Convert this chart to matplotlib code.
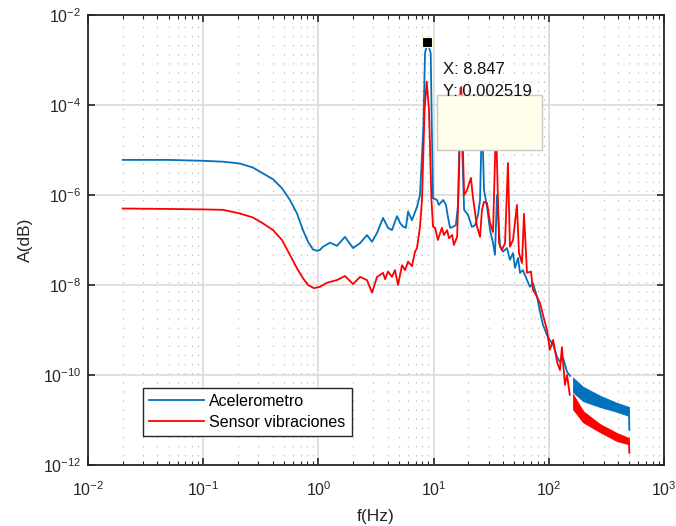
import numpy as np
import matplotlib
matplotlib.use("Agg")
import matplotlib.pyplot as plt
from matplotlib.ticker import FixedLocator, FixedFormatter, NullLocator
from matplotlib.patches import Rectangle

plt.rcParams['font.family'] = ['Liberation Sans', 'DejaVu Sans']
plt.rcParams['mathtext.default'] = 'regular'

# ---------------- data ----------------
# Acelerometro: frequency [Hz] and log10(amplitude)
acc_f = [0.02, 0.05, 0.1, 0.1486, 0.208, 0.270, 0.330, 0.404, 0.483, 0.566,
         0.652, 0.735, 0.813, 0.897, 0.973, 1.032, 1.096, 1.26, 1.45, 1.70,
         2.00, 2.30, 2.64, 2.92, 3.23, 3.64, 4.02, 4.35, 4.81, 5.11,
         5.42, 5.75, 6.00, 6.49, 7.18, 7.62, 8.15, 8.42, 8.847, 9.44,
         9.65, 9.88, 10.7, 11.1, 12.1, 12.8, 13.3, 13.9, 14.7, 15.6,
         16.3, 17.1, 18.4, 19.9, 21.5, 22.9, 24.3, 25.3, 26.3, 27.4,
         29.1, 30.9, 32.8, 34.1, 35.5, 37.7, 40.0, 43.4, 46.0, 48.9,
         50.9, 54.1, 56.2, 59.7, 64.7, 68.7, 72.9, 79.0, 83.9, 89.1,
         96.4, 102, 109, 118, 125, 133, 144, 153]
acc_log = [-5.22, -5.22, -5.24, -5.26, -5.30, -5.39, -5.52, -5.65, -5.85, -6.11,
           -6.41, -6.78, -7.04, -7.21, -7.24, -7.22, -7.15, -7.06, -7.13, -6.93,
           -7.18, -7.07, -6.89, -7.04, -6.84, -6.51, -6.73, -6.78, -6.47, -6.62,
           -6.70, -6.73, -6.37, -6.56, -6.26, -6.00, -4.50, -2.85, -2.599, -2.85,
           -4.50, -6.07, -6.11, -6.22, -6.11, -6.22, -6.48, -6.73, -6.71, -6.67,
           -6.22, -3.62, -6.33, -6.44, -6.71, -6.67, -6.44, -6.11, -4.20, -5.89,
           -6.26, -6.78, -7.07, -7.33, -6.00, -7.15, -7.26, -7.18, -7.44, -7.29,
           -7.62, -7.40, -7.73, -7.67, -7.89, -8.04, -7.96, -8.26, -8.60, -8.89,
           -9.11, -9.22, -9.33, -9.60, -9.71, -9.62, -9.93, -10.02]
# Acelerometro high-frequency band (envelopes, log10)
acc_band_f = [162, 198, 278, 391, 497]
acc_band_hi = [-10.06, -10.26, -10.46, -10.62, -10.71]
acc_band_lo = [-10.38, -10.58, -10.71, -10.82, -10.91]
acc_end_f = [497, 500]
acc_end_log = [-10.80, -11.22]

# Sensor vibraciones
sen_f = [0.02, 0.05, 0.1, 0.1486, 0.208, 0.270, 0.330, 0.404, 0.483, 0.566,
         0.652, 0.735, 0.813, 0.916, 1.032, 1.188, 1.45, 1.70, 2.00, 2.30,
         2.64, 2.92, 3.23, 3.64, 3.79, 4.02, 4.35, 4.62, 4.91, 5.32,
         5.65, 6.00, 6.49, 6.90, 7.18, 7.62, 7.93, 8.35, 8.71, 9.12,
         9.58, 9.88, 10.3, 10.9, 11.8, 12.3, 13.1, 13.6, 14.5, 15.0,
         16.0, 16.3, 17.4, 18.4, 19.5, 21.1, 22.0, 23.8, 25.3, 26.3,
         27.4, 29.1, 30.9, 32.8, 34.8, 37.0, 39.2, 41.7, 44.2, 46.0,
         48.9, 52.9, 55.1, 58.5, 60.9, 64.7, 70.0, 72.9, 79.0, 83.9,
         89.1, 96.4, 102, 109, 118, 125, 130, 138, 144, 152]
sen_log = [-6.30, -6.31, -6.32, -6.33, -6.41, -6.50, -6.63, -6.78, -7.00, -7.33,
           -7.63, -7.85, -8.00, -8.07, -8.04, -7.95, -7.89, -7.80, -7.98, -7.82,
           -7.89, -8.17, -7.82, -7.73, -7.87, -7.70, -7.82, -7.67, -8.00, -7.56,
           -7.67, -7.48, -7.58, -7.26, -7.18, -6.70, -6.11, -4.11, -3.48, -4.11,
           -6.11, -6.70, -6.73, -7.00, -6.73, -6.89, -6.78, -6.96, -6.89, -7.11,
           -6.93, -6.26, -3.60, -6.00, -5.89, -5.62, -6.07, -6.70, -6.93, -6.33,
           -6.15, -6.18, -6.62, -6.82, -4.40, -7.07, -7.22, -7.07, -5.29, -7.15,
           -7.00, -6.22, -7.29, -7.51, -6.42, -7.73, -7.70, -8.11, -8.26, -8.40,
           -8.67, -9.00, -9.44, -9.22, -9.71, -9.89, -9.38, -10.22, -10.00, -10.44]
sen_band_f = [162, 198, 278, 391, 497]
sen_band_hi = [-10.42, -10.80, -11.09, -11.29, -11.40]
sen_band_lo = [-10.76, -11.05, -11.27, -11.47, -11.54]
sen_end_f = [497, 500]
sen_end_log = [-11.47, -11.73]

peak_x = 8.847
peak_y = 0.002519

xticks = [1e-2, 1e-1, 1e0, 1e1, 1e2, 1e3]
xticklabels = [r'$10^{-2}$', r'$10^{-1}$', r'$10^{0}$', r'$10^{1}$', r'$10^{2}$', r'$10^{3}$']
yticks = [1e-12, 1e-10, 1e-8, 1e-6, 1e-4, 1e-2]
yticklabels = [r'$10^{-12}$', r'$10^{-10}$', r'$10^{-8}$', r'$10^{-6}$', r'$10^{-4}$', r'$10^{-2}$']

BLUE = '#0072BD'
RED = '#FF0000'

def p(v):
    return 10.0 ** np.asarray(v)

# ---------------- figure ----------------
fig = plt.figure(figsize=(6.76, 5.26), dpi=100)
ax = fig.add_axes([88/676, 1-465/526, 576/676, 450/526])
ax.set_xscale('log')
ax.set_yscale('log')

lw = 1.3
ax.plot(acc_f, p(acc_log), color=BLUE, lw=lw, label='Acelerometro', zorder=3)
ax.fill_between(acc_band_f, p(acc_band_lo), p(acc_band_hi), color=BLUE, lw=0.6,
                edgecolor=BLUE, zorder=3)
ax.plot(acc_end_f, p(acc_end_log), color=BLUE, lw=lw, zorder=3)

ax.plot(sen_f, p(sen_log), color=RED, lw=lw, label='Sensor vibraciones', zorder=4)
ax.fill_between(sen_band_f, p(sen_band_lo), p(sen_band_hi), color=RED, lw=0.6,
                edgecolor=RED, zorder=4)
ax.plot(sen_end_f, p(sen_end_log), color=RED, lw=lw, zorder=4)

ax.set_xlim(1e-2, 1e3)
ax.set_ylim(1e-12, 1e-2)

ax.xaxis.set_major_locator(FixedLocator(xticks))
ax.xaxis.set_major_formatter(FixedFormatter(xticklabels))
minors = [m * 10.0 ** e for e in range(-2, 3) for m in range(2, 10)]
ax.xaxis.set_minor_locator(FixedLocator(minors))
ax.yaxis.set_major_locator(FixedLocator(yticks))
ax.yaxis.set_major_formatter(FixedFormatter(yticklabels))
ax.yaxis.set_minor_locator(NullLocator())

ax.tick_params(which='both', direction='in', top=True, right=True,
               colors='#262626', labelcolor='#262626')
ax.tick_params(which='major', length=5, width=1.2, labelsize=11.5)
ax.tick_params(axis='x', which='major', pad=11)
ax.tick_params(axis='y', which='major', pad=5)
ax.tick_params(which='minor', length=3, width=0.8)

ax.grid(True, which='major', color='#dadada', lw=1.2, zorder=0)
ax.grid(True, which='minor', axis='x', color='#b8b8b8', lw=0.8,
        linestyle=(0, (1.2, 7)), zorder=0)
ax.set_axisbelow(True)
for s in ax.spines.values():
    s.set_color('#262626')
    s.set_linewidth(1.3)

ax.set_xlabel('f(Hz)', fontsize=12.5, color='#262626', labelpad=7)
ax.set_ylabel('A(dB)', fontsize=12.5, color='#262626', labelpad=7)

leg = ax.legend(loc='lower left', bbox_to_anchor=(0.0955, 0.0644), borderaxespad=0,
                fontsize=11.5, frameon=True, fancybox=False, framealpha=1,
                edgecolor='#262626', handlelength=3.4, handletextpad=0.35,
                borderpad=0.4, labelspacing=0.35)
leg.get_frame().set_linewidth(1.0)
leg.set_zorder(10)

# data tip
ax.plot([peak_x], [peak_y], marker='s', markersize=7.5, color='black',
        markeredgecolor='#fffbd0', markeredgewidth=0.8, zorder=8, linestyle='none')
ax.add_patch(Rectangle((0.606, 0.70), 0.182, 0.122, transform=ax.transAxes,
                       facecolor='#fefeea', edgecolor='#c8c8c8', lw=1.0, zorder=7))
ax.text(0.6158, 0.869, 'X: %.3f' % peak_x, transform=ax.transAxes, fontsize=12,
        va='baseline', ha='left', color='#111111', zorder=9)
ax.text(0.6158, 0.820, 'Y: %.6f' % peak_y, transform=ax.transAxes, fontsize=12,
        va='baseline', ha='left', color='#111111', zorder=9)

fig.savefig('out.png', dpi=100)
